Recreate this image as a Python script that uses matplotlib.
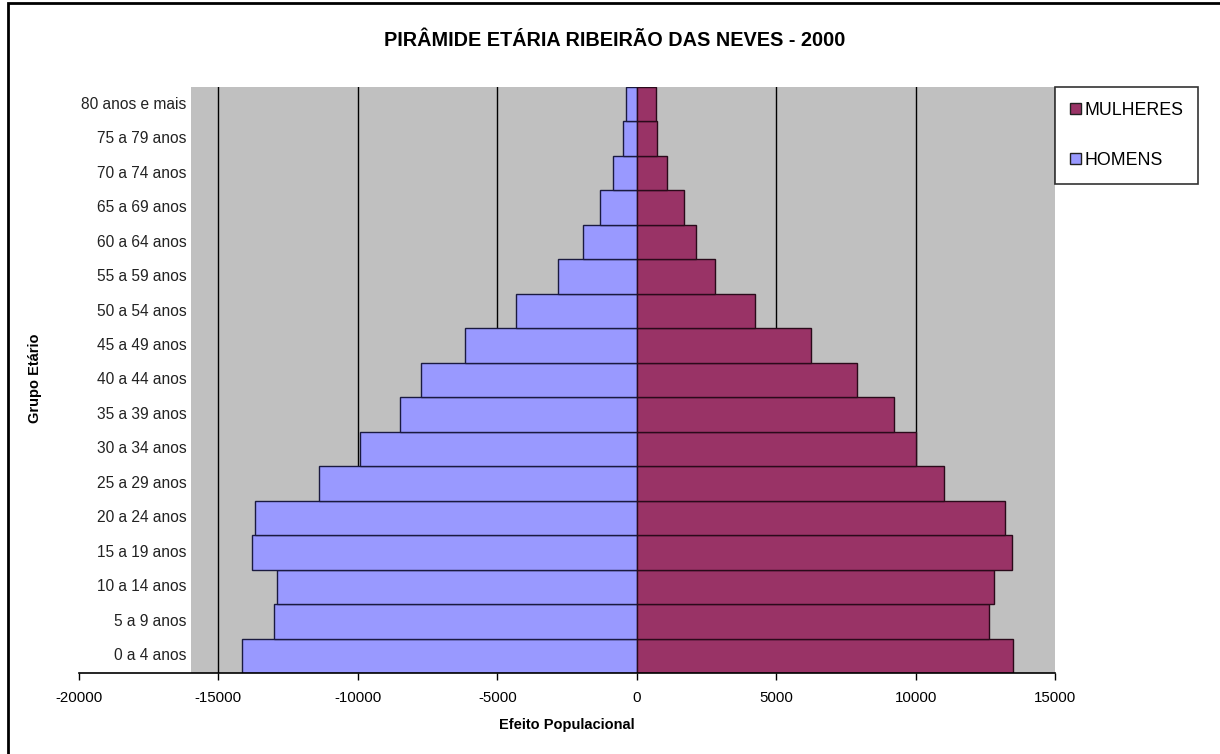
import matplotlib
matplotlib.use("Agg")
import matplotlib.pyplot as plt
from matplotlib.patches import Rectangle, Patch

categories = ["0 a 4 anos", "5 a 9 anos", "10 a 14 anos", "15 a 19 anos", "20 a 24 anos",
              "25 a 29 anos", "30 a 34 anos", "35 a 39 anos", "40 a 44 anos", "45 a 49 anos",
              "50 a 54 anos", "55 a 59 anos", "60 a 64 anos", "65 a 69 anos", "70 a 74 anos",
              "75 a 79 anos", "80 anos e mais"]
homens = [14160, 13020, 12890, 13790, 13690, 11400, 9910, 8480, 7750, 6160,
          4330, 2830, 1920, 1310, 840, 480, 400]
mulheres = [13510, 12650, 12830, 13470, 13200, 11020, 10030, 9230, 7910, 6240,
            4250, 2810, 2130, 1690, 1100, 730, 690]
xticks = [-20000, -15000, -10000, -5000, 0, 5000, 10000, 15000]

plt.rcParams['font.family'] = ['Liberation Sans', 'DejaVu Sans']

W, H = 1220, 754
fig = plt.figure(figsize=(W / 100, H / 100), dpi=100)
fig.patch.set_facecolor('white')

# outer frame
fig.add_artist(Rectangle((8 / W, -0.05), 1.2, (H - 3) / H + 0.05, transform=fig.transFigure,
                         fill=False, edgecolor='black', linewidth=2))

ax = fig.add_axes([79 / W, (H - 673) / H, 976 / W, 586 / H])
ax.set_facecolor('white')
ax.set_xlim(-20000, 15000)
ax.set_ylim(-0.5, len(categories) - 0.5)

ax.axvspan(-16000, 15000, color='#C0C0C0', zorder=0, linewidth=0)
for t in xticks[1:-1]:
    if t != 0:
        ax.axvline(t, color='black', linewidth=1, zorder=1)

y = list(range(len(categories)))
ax.barh(y, [-v for v in homens], height=1.0, color='#9999FF', edgecolor='#1a1a40',
        linewidth=1, zorder=2, label='HOMENS')
ax.barh(y, mulheres, height=1.0, color='#993366', edgecolor='#2a0a1a',
        linewidth=1, zorder=2, label='MULHERES')

ax.set_yticks([])
for yi, c in zip(y, categories):
    ax.text(-16150, yi, c, ha='right', va='center', fontsize=11.2, color='#222222')

ax.set_xticks(xticks)
ax.set_xticklabels([str(t) for t in xticks], fontsize=10.8)
ax.tick_params(axis='x', direction='out', length=5, width=1, pad=8, colors='black')
for s in ['top', 'right', 'left']:
    ax.spines[s].set_visible(False)
ax.spines['bottom'].set_linewidth(1.2)
ax.spines['bottom'].set_zorder(3)

ax.set_xlabel('Efeito Populacional', fontsize=10.5, fontweight='bold', labelpad=9)
fig.text(35 / W, 1 - 378 / H, 'Grupo Etário', rotation=90, ha='center', va='center',
         fontsize=10.5, fontweight='bold')

fig.text(615 / W, 1 - 40 / H, 'PIRÂMIDE ETÁRIA RIBEIRÃO DAS NEVES - 2000', ha='center',
         va='center', fontsize=14.3, fontweight='bold')

handles = [Patch(facecolor='#993366', edgecolor='#222222', label='MULHERES'),
           Patch(facecolor='#9999FF', edgecolor='#222222', label='HOMENS')]
leg = fig.legend(handles=handles, loc='upper left', bbox_to_anchor=(1055 / W, 1 - 87 / H),
                 fontsize=12.8, frameon=True, fancybox=False, edgecolor='black',
                 handlelength=0.6, handleheight=0.6, handletextpad=0.2,
                 labelspacing=1.85, borderpad=0.85, borderaxespad=0)
leg.get_frame().set_linewidth(1.2)

fig.savefig('out.png', dpi=100)
